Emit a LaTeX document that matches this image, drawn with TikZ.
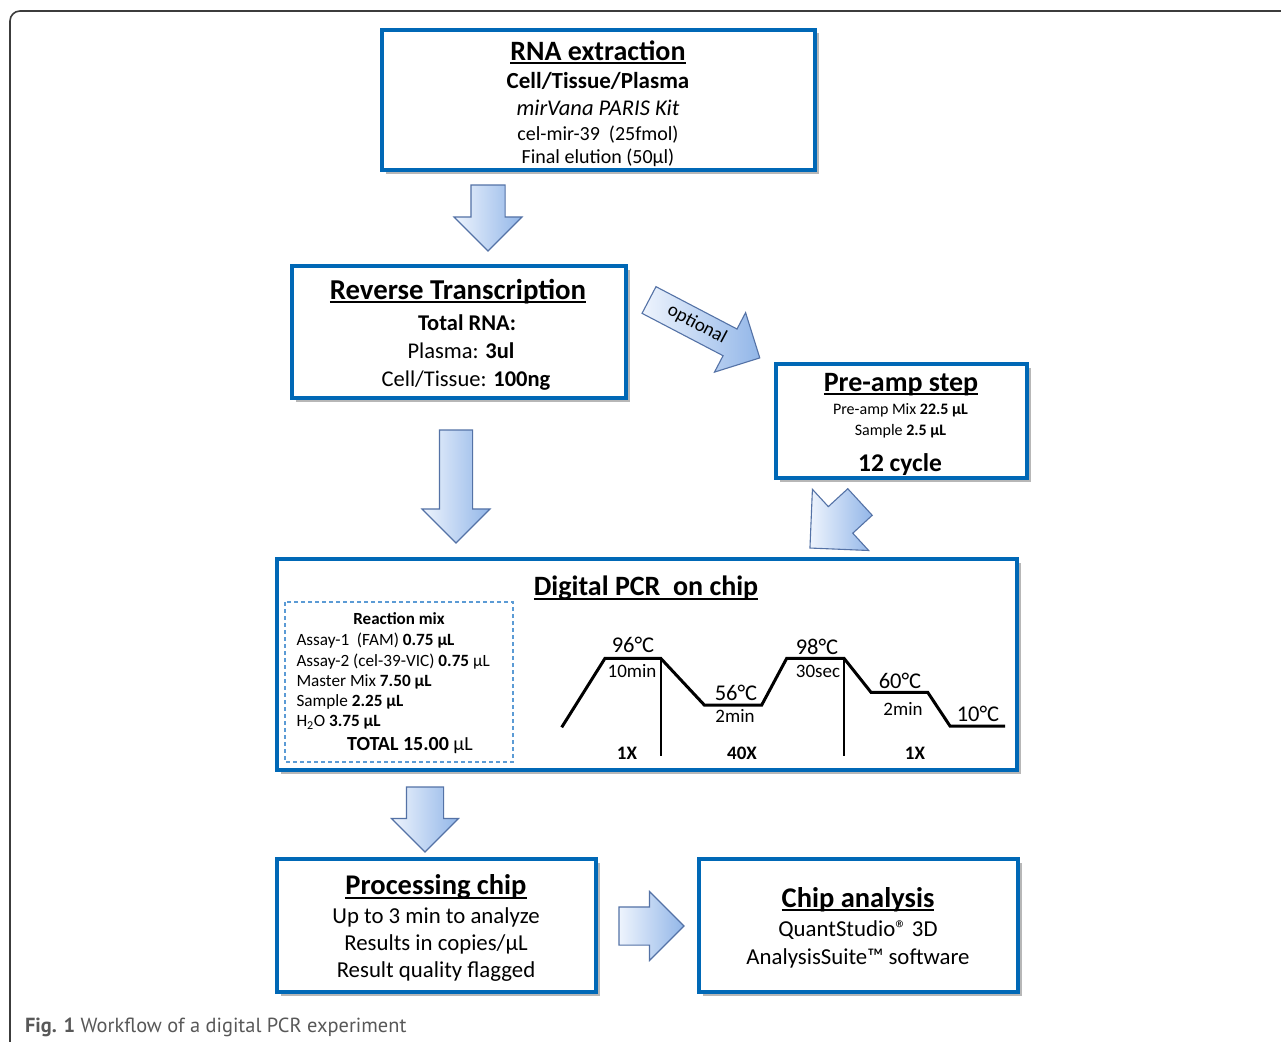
\documentclass[tikz,border=0pt]{standalone}
\usepackage{fontspec}
\setmainfont{Carlito}
\newfontfamily\capfont{PT Sans}
\usetikzlibrary{shapes.arrows,shadows}
\definecolor{boxblue}{RGB}{0,104,182}
\definecolor{arrline}{RGB}{84,114,166}
\definecolor{arrlight}{RGB}{238,244,253}
\definecolor{arrdark}{RGB}{146,182,232}
\definecolor{dashblue}{RGB}{91,155,213}
\definecolor{capgray}{RGB}{88,88,88}
\definecolor{framegray}{RGB}{60,60,60}
\newsavebox\ulbox
\newcommand\ulx[1]{\sbox\ulbox{#1}\rlap{\rule[-4pt]{\wd\ulbox}{1.8pt}}\usebox\ulbox}
\newcommand\fs[1]{\fontsize{#1}{#1}\selectfont}
\tikzset{
  stepbox/.style={rectangle, draw=boxblue, line width=3.2pt, fill=white, inner sep=0pt,
    drop shadow={shadow xshift=3.5pt, shadow yshift=-3.5pt, opacity=0.4, fill=black!70}},
  txt/.style={anchor=base, inner sep=0pt, outer sep=0pt},
  ltxt/.style={anchor=base west, inner sep=0pt, outer sep=0pt},
  blockarrow/.style n args={3}{single arrow, draw=arrline, line width=1.1pt,
    left color=arrlight, right color=arrdark, inner sep=#2, outer sep=0pt,
    minimum height=#1, single arrow head extend=#3, anchor=tail},
  profile/.style={line width=3pt, line join=miter},
  divider/.style={line width=1.8pt},
}
\begin{document}
\begin{tikzpicture}[x=1pt,y=-1pt]
\useasboundingbox (0,0) rectangle (1281,1041);
\fill[white] (0,0) rectangle (1281,1041);
% outer frame
\draw[framegray, line width=1.6pt, rounded corners=10pt] (10,1060) -- (10,11) -- (1300,11);

% boxes
\node[stepbox, minimum width=433pt, minimum height=140pt] (rna) at (598.5,100) {};
\node[stepbox, minimum width=334pt, minimum height=132pt] (rt) at (459,332) {};
\node[stepbox, minimum width=251pt, minimum height=114pt] (pre) at (901.5,421) {};
\node[stepbox, minimum width=740pt, minimum height=211pt] (dpcr) at (647,664.5) {};
\node[stepbox, minimum width=319pt, minimum height=133pt] (proc) at (436.5,925.5) {};
\node[stepbox, minimum width=319pt, minimum height=133pt] (chip) at (858.5,925.5) {};

% RNA extraction texts
\node[txt] (rnaT) at (598,60) {\fs{28}\bfseries\ulx{RNA extraction}};
\node[txt] (rna1) at (598,88) {\fs{23}\bfseries Cell/Tissue/Plasma};
\node[txt] (rna2) at (598,115) {\fs{22.5}\itshape mirVana PARIS Kit};
\node[txt] (rna3) at (598,140) {\fs{20}cel-mir-39\ \ (25fmol)};
\node[txt] (rna4) at (598,163.5) {\fs{20}Final elution (50μl)};

% Reverse transcription texts
\node[txt] (rtT) at (458,299) {\fs{28.8}\bfseries\ulx{Reverse Transcription}};
\node[txt] (rt1) at (467,330) {\fs{22.5}\bfseries Total RNA:};
\node[txt] (rt2) at (461,358.5) {\fs{22.5}Plasma: \textbf{3ul}};
\node[txt] (rt3) at (466,386.5) {\fs{22.5}Cell/Tissue: \textbf{100ng}};

% Pre-amp texts
\node[txt] (preT) at (901,391) {\fs{28}\bfseries\ulx{Pre-amp step}};
\node[txt] (pre1) at (900.5,414) {\fs{16}Pre-amp Mix \textbf{22.5 μL}};
\node[txt] (pre2) at (900.5,435) {\fs{16}Sample \textbf{2.5 μL}};
\node[txt] (pre3) at (900,471) {\fs{25.5}\bfseries 12 cycle};

% Digital PCR texts
\node[txt] (dT) at (646,595.5) {\fs{28}\bfseries\ulx{Digital PCR\ \ on chip}};
\draw[dashblue, line width=1.2pt, dash pattern=on 4pt off 3pt] (285,602) rectangle (513,762);
\node[txt] (mixT) at (399,624) {\fs{17}\bfseries Reaction mix};
\node[ltxt] (mix1) at (296.5,645) {\fs{17.2}Assay-1\ \ (FAM) \textbf{0.75 μL}};
\node[ltxt] (mix2) at (296.5,666.5) {\fs{17.2}Assay-2 (cel-39-VIC) \textbf{0.75} μL};
\node[ltxt] (mix3) at (296.5,686.5) {\fs{17.2}Master Mix \textbf{7.50 μL}};
\node[ltxt] (mix4) at (296.5,706.5) {\fs{17.2}Sample \textbf{2.25 μL}};
\node[ltxt] (mix5) at (296.5,726.5) {\fs{17.2}H\textsubscript{2}O \textbf{3.75 μL}};
\node[txt] (mixTot) at (410,750) {\fs{20}\textbf{TOTAL 15.00} μL};

% thermal profile
\draw[profile] (561.7,727.3) -- (605,658.3) -- (660.7,658.3) -- (704.3,705) -- (761.7,705)
  -- (786.7,658.3) -- (844,658.3) -- (871,692.3) -- (927.7,692.3) -- (950,726) -- (1005,726);
\draw[divider] (660.7,658.3) -- (660.7,756);
\draw[divider] (844,658.3) -- (844,756);
\node[txt] (t96) at (633,652) {\fs{22.5}96°C};
\node[txt] (d10) at (632,677) {\fs{19}10min};
\node[txt] (t56) at (736,700.5) {\fs{22.5}56°C};
\node[txt] (d2a) at (735,722) {\fs{19}2min};
\node[txt] (t98) at (817,654) {\fs{22.5}98°C};
\node[txt] (d30) at (818,677) {\fs{19}30sec};
\node[txt] (t60) at (900,688.5) {\fs{22.5}60°C};
\node[txt] (d2b) at (903,715) {\fs{19}2min};
\node[txt] (t10) at (978,721) {\fs{22.5}10°C};
\node[txt] (c1) at (627,759) {\fs{19}\bfseries 1X};
\node[txt] (c40) at (742,759) {\fs{19}\bfseries 40X};
\node[txt] (c1b) at (915,759) {\fs{19}\bfseries 1X};

% Processing chip texts
\node[txt] (procT) at (436,894.5) {\fs{28.5}\bfseries\ulx{Processing chip}};
\node[txt] (proc1) at (436,923) {\fs{22.8}Up to 3 min to analyze};
\node[txt] (proc2) at (436,950.5) {\fs{22.8}Results in copies/μL};
\node[txt] (proc3) at (436,977) {\fs{22.8}Result quality flagged};

% Chip analysis texts
\node[txt] (chipT) at (858,907) {\fs{28.5}\bfseries\ulx{Chip analysis}};
\node[txt] (chip1) at (858,936.5) {\fs{22.8}QuantStudio® 3D};
\node[txt] (chip2) at (858,964) {\fs{22.8}AnalysisSuite™ software};

% block arrows
\node[blockarrow={66pt}{16.5pt}{17pt}, rotate=-90] (a1) at (488,185) {};
\node[blockarrow={113pt}{16pt}{17.5pt}, rotate=-90] (a2) at (456,430) {};
\node[blockarrow={125pt}{14.5pt}{18.5pt}, rotate=-27.6] (a3) at (649,300) {};
\node[inner sep=0pt, outer sep=0pt, rotate=-28] (opt) at (697,324.5) {\fs{19}optional};
\node[blockarrow={68pt}{17.5pt}{23.5pt}, rotate=-137.4] (a4) at (860,502) {};
\node[blockarrow={65pt}{18pt}{15pt}, rotate=-90] (a5) at (425,787) {};
\node[blockarrow={65pt}{18.5pt}{15.5pt}] (a6) at (619,926) {};

% caption
\node[ltxt] (cap) at (25,1032.7) {\capfont\fs{20.4}\color{capgray}\textbf{Fig. 1} Workflow of a digital PCR experiment};
\end{tikzpicture}
\end{document}
